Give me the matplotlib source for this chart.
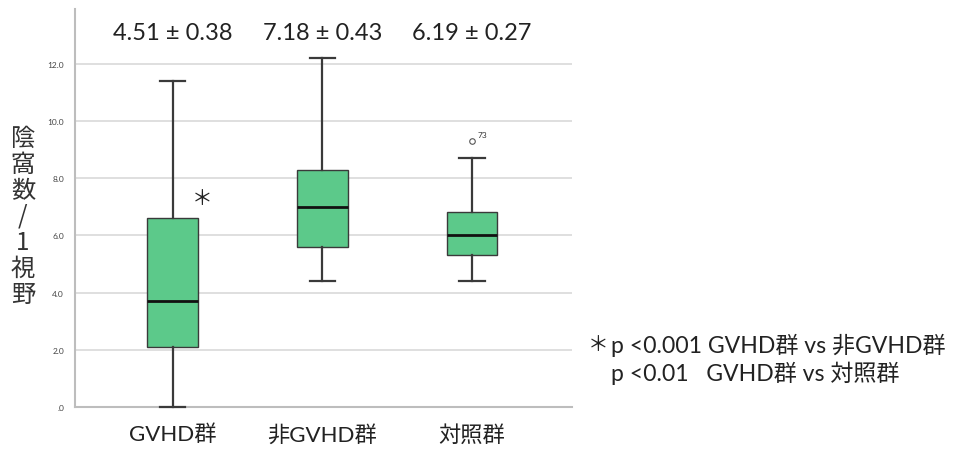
import matplotlib
matplotlib.use('Agg')
import matplotlib.pyplot as plt

plt.rcParams['font.family'] = ['Lato', 'Noto Sans CJK JP', 'DejaVu Sans']

# per-group box statistics
groups = ['GVHD群', '非GVHD群', '対照群']
whislo = [0.0, 4.4, 4.4]
q1 = [2.1, 5.6, 5.3]
med = [3.7, 7.0, 6.0]
q3 = [6.6, 8.3, 6.8]
whishi = [11.4, 12.2, 8.7]
fliers = [[], [], [9.3]]
flier_ids = [[], [], ['73']]
mean_sd = ['4.51 ± 0.38', '7.18 ± 0.43', '6.19 ± 0.27']

yticks = [0, 2, 4, 6, 8, 10, 12]
ytick_labels = ['.0', '2.0', '4.0', '6.0', '8.0', '10.0', '12.0']

BOX_COLOR = '#5cc98a'
EDGE = '#3a3a3a'
CJK = ['Noto Sans CJK JP', 'DejaVu Sans']

fig = plt.figure(figsize=(9.56, 4.52), dpi=100)
ax = fig.add_axes([0.0785, 0.097, 0.52, 0.8805])

stats = []
for i, g in enumerate(groups):
    stats.append(dict(label=g, whislo=whislo[i], q1=q1[i], med=med[i],
                      q3=q3[i], whishi=whishi[i], fliers=fliers[i]))

positions = list(range(1, len(groups) + 1))
art = ax.bxp(stats, positions=positions, widths=0.34, patch_artist=True,
             boxprops=dict(facecolor=BOX_COLOR, edgecolor=EDGE, linewidth=1.0),
             medianprops=dict(color='#111111', linewidth=2.0),
             whiskerprops=dict(color=EDGE, linewidth=1.6),
             capprops=dict(color=EDGE, linewidth=1.6),
             capwidths=0.17,
             flierprops=dict(marker='o', markersize=4, markerfacecolor='white',
                             markeredgecolor='#555555', markeredgewidth=0.8))
# keep caps on top of the axis line
for key in ['caps', 'whiskers']:
    for ln in art[key]:
        ln.set_zorder(5)
        ln.set_clip_on(False)

# outlier case numbers
for p, vals, ids in zip(positions, fliers, flier_ids):
    for v, t in zip(vals, ids):
        ax.annotate(t, (p, v), xytext=(4, 3), textcoords='offset points',
                    fontsize=6, color='#333333')

ax.set_xlim(0.347, 3.67)
ax.set_ylim(0, 13.9)
ax.set_yticks(yticks)
ax.set_yticklabels(ytick_labels, fontsize=6, color='#444444')
ax.set_xticks(positions)
ax.set_xticklabels(groups, fontsize=16, color='#222222')
ax.tick_params(axis='x', length=0, pad=12)
ax.tick_params(axis='y', length=0, pad=8)

ax.grid(axis='y', color='#d9d9d9', linewidth=1.2)
ax.set_axisbelow(True)
for side in ['top', 'right']:
    ax.spines[side].set_visible(False)
ax.spines['left'].set_color('#bdbdbd')
ax.spines['bottom'].set_color('#bdbdbd')
ax.spines['left'].set_linewidth(1.5)
ax.spines['bottom'].set_linewidth(1.5)

# mean ± SD above each box
for p, s in zip(positions, mean_sd):
    ax.text(p, 13.1, s, ha='center', va='center', fontsize=17, color='#222222')

# significance marker next to the GVHD box
ax.text(1.2, 7.3, '＊', ha='center', va='center', fontsize=15,
        color='#222222', family=CJK)

# vertical y label
fig.text(0.024, 0.52, '陰\n窩\n数\n/\n1\n視\n野', ha='center', va='center',
         fontsize=17.5, color='#333333', linespacing=1.0, family=CJK)

# significance notes
fig.text(0.615, 0.236, '＊', ha='left', va='center', fontsize=15,
         color='#222222', family=CJK)
fig.text(0.639, 0.236, 'p <0.001 GVHD群 vs 非GVHD群', ha='left', va='center',
         fontsize=16.6, color='#222222')
fig.text(0.639, 0.175, 'p <0.01   GVHD群 vs 対照群', ha='left', va='center',
         fontsize=16.6, color='#222222')

fig.savefig('out.png', dpi=100)
